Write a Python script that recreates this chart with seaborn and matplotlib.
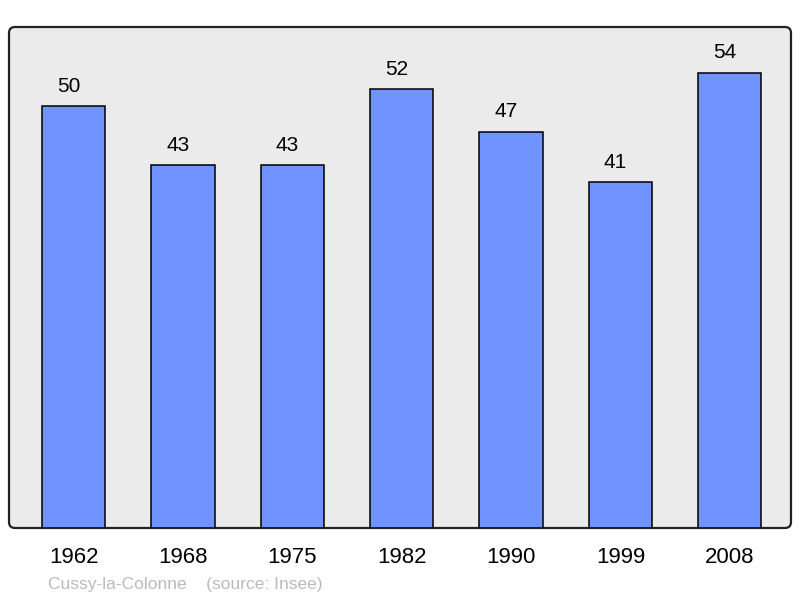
import matplotlib
matplotlib.use("Agg")
import matplotlib.pyplot as plt
import seaborn as sns
import pandas as pd
from matplotlib.patches import FancyBboxPatch

years = ["1962", "1968", "1975", "1982", "1990", "1999", "2008"]
population = [50, 43, 43, 52, 47, 41, 54]
town = "Cussy-la-Colonne"
source = "(source: Insee)"

df = pd.DataFrame({"year": years, "pop": population})

sns.set_style("white")
plt.rcParams["font.family"] = ["Liberation Sans", "DejaVu Sans"]
plt.rcParams["text.color"] = "black"
plt.rcParams["xtick.color"] = "black"

fig = plt.figure(figsize=(8, 5.98), dpi=100)
# axes box in pixels: left 9, right 791, top 27, bottom 528
ax = fig.add_axes([9 / 800, (598 - 528) / 598, 782 / 800, 501 / 598])

sns.barplot(data=df, x="year", y="pop", color="#7094ff", saturation=1,
            width=0.58, edgecolor="black", linewidth=1.1, ax=ax, zorder=3)

ax.set_xlim(-0.59, 6.56)
ax.set_ylim(0, 59.4)
ax.set_xlabel("")
ax.set_ylabel("")
ax.set_yticks([])
ax.tick_params(axis="x", length=0, labelsize=16, pad=14, labelcolor="black")

for i, v in enumerate(population):
    ax.text(i - 0.045, v + 1.2, str(v), ha="center", va="bottom",
            fontsize=15, color="black")

# gray background with rounded frame
for s in ax.spines.values():
    s.set_visible(False)
ax.patch.set_visible(False)
r = 6
frame = FancyBboxPatch((0, 0), 1, 1, transform=ax.transAxes,
                       boxstyle=f"round,pad=0,rounding_size={r / 782}",
                       mutation_aspect=782 / 501,
                       facecolor="#ebebeb", edgecolor="#222222",
                       linewidth=1.6, zorder=0, clip_on=False)
ax.add_patch(frame)

fig.text(48 / 800, 1 - 584 / 598, town + "    " + source, color="#bbbbbb",
         fontsize=12.5, ha="left", va="center")

fig.savefig("out.png", dpi=100)
